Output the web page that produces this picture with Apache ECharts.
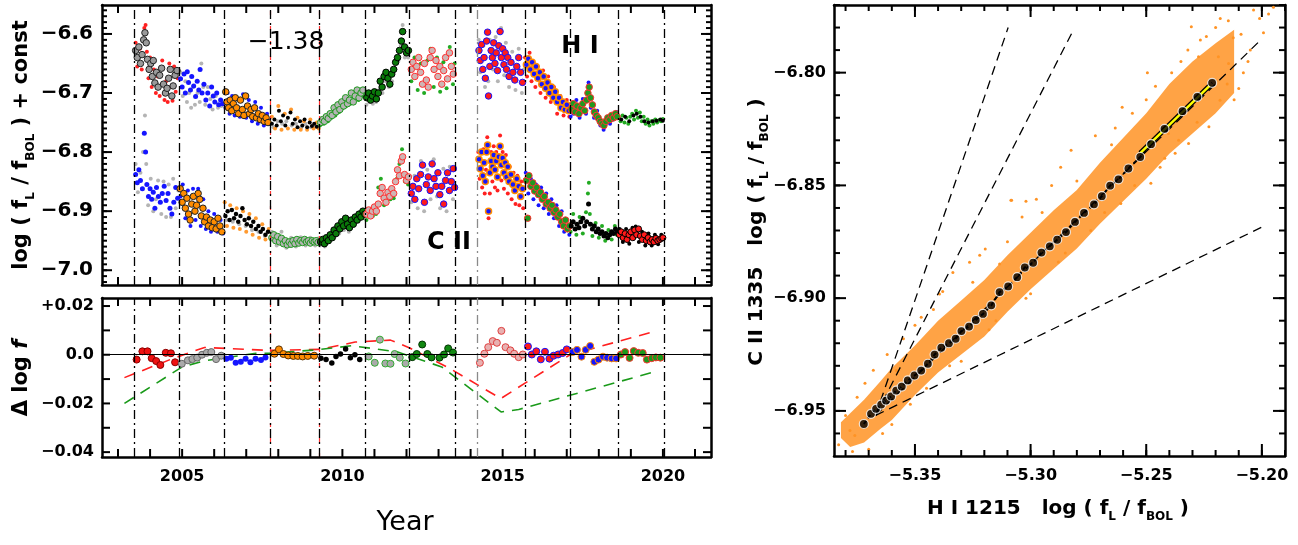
<!DOCTYPE html>
<html><head><meta charset="utf-8">
<script src="https://cdn.jsdelivr.net/npm/echarts@6/dist/echarts.min.js"></script>
<style>html,body{margin:0;padding:0;background:#fff}#c{width:1298px;height:545px}</style>
</head><body><div id="c"></div><script>
// ---------------- data: top-left panel (H I upper, C II lower) ----------------
const hiS1=[[2003.55,-6.615],[2003.6,-6.655],[2003.68,-6.625],[2003.74,-6.66],[2003.82,-6.59],[2003.86,-6.585],[2003.9,-6.63],[2003.95,-6.675],[2004.0,-6.64],[2004.05,-6.69],[2004.12,-6.66],[2004.18,-6.7],[2004.24,-6.672],[2004.3,-6.705],[2004.38,-6.645],[2004.45,-6.712],[2004.5,-6.68],[2004.55,-6.715],[2004.6,-6.65],[2004.66,-6.69],[2004.7,-6.713],[2004.75,-6.655],[2004.8,-6.698],[2004.86,-6.675]];
const hiB1=[[2003.55,-6.628],[2003.6,-6.64],[2003.65,-6.622],[2003.7,-6.65],[2003.75,-6.635],[2003.8,-6.61],[2003.84,-6.598],[2003.88,-6.615],[2003.92,-6.643],[2003.97,-6.66],[2004.02,-6.65],[2004.07,-6.672],[2004.1,-6.645],[2004.15,-6.683],[2004.2,-6.665],[2004.25,-6.69],[2004.3,-6.67],[2004.36,-6.658],[2004.42,-6.685],[2004.48,-6.7],[2004.53,-6.692],[2004.58,-6.675],[2004.63,-6.66],[2004.68,-6.705],[2004.72,-6.688],[2004.78,-6.67],[2004.84,-6.662]];
const hiS2=[[2004.95,-6.665],[2005.02,-6.705],[2005.1,-6.68],[2005.15,-6.715],[2005.22,-6.7],[2005.28,-6.725],[2005.34,-6.69],[2005.4,-6.72],[2005.48,-6.7],[2005.55,-6.715],[2005.6,-6.65],[2005.66,-6.69],[2005.72,-6.72],[2005.8,-6.69],[2005.88,-6.71],[2005.95,-6.728],[2006.05,-6.705],[2006.12,-6.725],[2006.22,-6.722]];
const hiB2=[[2004.95,-6.676],[2005.0,-6.69],[2005.06,-6.668],[2005.1,-6.7],[2005.16,-6.664],[2005.2,-6.682],[2005.26,-6.695],[2005.3,-6.672],[2005.36,-6.688],[2005.42,-6.706],[2005.47,-6.68],[2005.52,-6.695],[2005.56,-6.66],[2005.62,-6.7],[2005.68,-6.685],[2005.74,-6.712],[2005.8,-6.7],[2005.86,-6.722],[2005.92,-6.69],[2005.97,-6.705],[2006.02,-6.715],[2006.08,-6.7],[2006.14,-6.72],[2006.2,-6.712],[2006.26,-6.718]];
const hiS3=[[2006.35,-6.725],[2006.42,-6.7],[2006.48,-6.735],[2006.56,-6.705],[2006.64,-6.738],[2006.72,-6.71],[2006.8,-6.74],[2006.9,-6.702],[2007.0,-6.742],[2007.08,-6.712],[2007.18,-6.748],[2007.28,-6.715],[2007.36,-6.752],[2007.46,-6.725],[2007.55,-6.755],[2007.65,-6.735],[2007.72,-6.752]];
const hiB3=[[2006.36,-6.698],[2006.4,-6.715],[2006.45,-6.725],[2006.5,-6.712],[2006.55,-6.73],[2006.6,-6.718],[2006.66,-6.708],[2006.7,-6.725],[2006.76,-6.735],[2006.82,-6.712],[2006.88,-6.728],[2006.93,-6.738],[2006.98,-6.705],[2007.04,-6.722],[2007.1,-6.735],[2007.15,-6.728],[2007.2,-6.74],[2007.26,-6.725],[2007.32,-6.742],[2007.38,-6.735],[2007.44,-6.745],[2007.5,-6.738],[2007.56,-6.748],[2007.62,-6.742],[2007.68,-6.75]];
const hiS4=[[2007.8,-6.74],[2007.9,-6.76],[2008.0,-6.722],[2008.1,-6.762],[2008.2,-6.735],[2008.3,-6.76],[2008.4,-6.728],[2008.5,-6.762],[2008.6,-6.742],[2008.7,-6.762],[2008.8,-6.748],[2008.9,-6.762],[2009.0,-6.745],[2009.1,-6.76],[2009.2,-6.75],[2009.26,-6.76]];
const hiG4=[[2007.85,-6.758],[2007.98,-6.748],[2008.12,-6.752],[2008.25,-6.748],[2008.42,-6.755],[2008.55,-6.752],[2008.72,-6.758],[2008.85,-6.752],[2009.02,-6.758],[2009.15,-6.755]];
const hiB4=[[2007.8,-6.752],[2007.88,-6.745],[2007.95,-6.755],[2008.02,-6.73],[2008.08,-6.748],[2008.15,-6.738],[2008.22,-6.755],[2008.3,-6.742],[2008.38,-6.733],[2008.45,-6.752],[2008.52,-6.745],[2008.6,-6.758],[2008.68,-6.748],[2008.75,-6.755],[2008.82,-6.745],[2008.9,-6.758],[2008.98,-6.75],[2009.05,-6.756],[2009.12,-6.752],[2009.2,-6.757]];
const hiS5=[[2009.3,-6.755],[2009.42,-6.752],[2009.55,-6.748],[2009.66,-6.742],[2009.78,-6.738],[2009.9,-6.732],[2010.0,-6.726],[2010.12,-6.722],[2010.25,-6.718],[2010.38,-6.712],[2010.5,-6.712],[2010.62,-6.705],[2010.7,-6.7]];
const hiB5=[[2009.32,-6.75],[2009.38,-6.745],[2009.44,-6.748],[2009.5,-6.74],[2009.56,-6.743],[2009.62,-6.735],[2009.68,-6.738],[2009.74,-6.725],[2009.8,-6.732],[2009.86,-6.72],[2009.92,-6.728],[2009.98,-6.715],[2010.04,-6.722],[2010.1,-6.708],[2010.16,-6.718],[2010.22,-6.712],[2010.28,-6.7],[2010.34,-6.715],[2010.4,-6.705],[2010.46,-6.695],[2010.52,-6.708],[2010.58,-6.7],[2010.64,-6.695]];
const hiS6=[[2010.75,-6.72],[2010.85,-6.715],[2010.95,-6.718],[2011.05,-6.715],[2011.15,-6.695],[2011.25,-6.7],[2011.35,-6.68],[2011.45,-6.69],[2011.55,-6.68],[2011.65,-6.66],[2011.75,-6.645],[2011.82,-6.62],[2011.88,-6.585],[2011.95,-6.64],[2012.05,-6.64]];
const hiB6=[[2010.76,-6.708],[2010.82,-6.7],[2010.88,-6.712],[2010.94,-6.705],[2011.0,-6.698],[2011.06,-6.71],[2011.12,-6.7],[2011.18,-6.68],[2011.24,-6.69],[2011.3,-6.672],[2011.36,-6.665],[2011.42,-6.675],[2011.48,-6.685],[2011.54,-6.668],[2011.6,-6.66],[2011.66,-6.648],[2011.72,-6.64],[2011.78,-6.628],[2011.84,-6.612],[2011.88,-6.596],[2011.94,-6.622],[2012.0,-6.632],[2012.06,-6.628]];
const hiS7=[[2012.15,-6.68],[2012.25,-6.64],[2012.35,-6.695],[2012.45,-6.65],[2012.55,-6.7],[2012.65,-6.645],[2012.75,-6.625],[2012.85,-6.69],[2012.95,-6.64],[2013.05,-6.698],[2013.15,-6.648],[2013.25,-6.692],[2013.35,-6.622],[2013.45,-6.685],[2013.5,-6.65]];
const hiB7=[[2012.15,-6.66],[2012.2,-6.648],[2012.26,-6.672],[2012.32,-6.655],[2012.38,-6.64],[2012.44,-6.665],[2012.5,-6.685],[2012.56,-6.65],[2012.62,-6.678],[2012.68,-6.69],[2012.74,-6.64],[2012.8,-6.628],[2012.86,-6.66],[2012.92,-6.645],[2012.98,-6.672],[2013.04,-6.655],[2013.1,-6.685],[2013.16,-6.662],[2013.22,-6.64],[2013.28,-6.676],[2013.34,-6.632],[2013.4,-6.655],[2013.46,-6.668]];
const hiS8=[[2014.25,-6.61],[2014.3,-6.665],[2014.4,-6.62],[2014.45,-6.69],[2014.55,-6.68],[2014.6,-6.61],[2014.7,-6.66],[2014.78,-6.605],[2014.85,-6.68],[2014.95,-6.59],[2015.05,-6.67],[2015.1,-6.615],[2015.2,-6.69],[2015.3,-6.63],[2015.4,-6.695],[2015.5,-6.625],[2015.6,-6.7],[2015.66,-6.66]];
const hiB8=[[2014.26,-6.628],[2014.3,-6.645],[2014.34,-6.618],[2014.38,-6.66],[2014.42,-6.64],[2014.46,-6.675],[2014.5,-6.612],[2014.53,-6.597],[2014.56,-6.705],[2014.6,-6.655],[2014.64,-6.628],[2014.68,-6.64],[2014.72,-6.615],[2014.76,-6.65],[2014.8,-6.632],[2014.84,-6.662],[2014.88,-6.62],[2014.92,-6.596],[2014.96,-6.64],[2015.0,-6.625],[2015.04,-6.652],[2015.08,-6.632],[2015.12,-6.66],[2015.16,-6.64],[2015.2,-6.672],[2015.26,-6.648],[2015.32,-6.665],[2015.38,-6.678],[2015.44,-6.655],[2015.5,-6.64],[2015.56,-6.665],[2015.62,-6.682]];
const hiS9=[[2015.7,-6.64],[2015.76,-6.672],[2015.84,-6.632],[2015.9,-6.68],[2015.96,-6.65],[2016.02,-6.69],[2016.1,-6.655],[2016.18,-6.7],[2016.26,-6.662],[2016.34,-6.708],[2016.42,-6.672],[2016.5,-6.715],[2016.6,-6.69],[2016.7,-6.735],[2016.8,-6.705],[2016.9,-6.738],[2017.0,-6.712],[2017.08,-6.74]];
const hiB9=[[2015.74,-6.652],[2015.8,-6.642],[2015.86,-6.66],[2015.92,-6.648],[2015.98,-6.668],[2016.04,-6.655],[2016.1,-6.675],[2016.16,-6.665],[2016.22,-6.685],[2016.28,-6.672],[2016.34,-6.692],[2016.4,-6.682],[2016.46,-6.7],[2016.52,-6.69],[2016.58,-6.708],[2016.64,-6.698],[2016.7,-6.715],[2016.76,-6.708],[2016.82,-6.725],[2016.88,-6.715],[2016.94,-6.728],[2017.0,-6.72],[2017.06,-6.73]];
const hiS10=[[2017.12,-6.74],[2017.2,-6.735],[2017.3,-6.712],[2017.4,-6.742],[2017.5,-6.71],[2017.6,-6.735],[2017.68,-6.682],[2017.75,-6.725],[2017.85,-6.742],[2017.95,-6.73],[2018.05,-6.755],[2018.15,-6.762],[2018.25,-6.75],[2018.35,-6.752],[2018.45,-6.745],[2018.55,-6.732]];
const hiB10=[[2017.14,-6.728],[2017.2,-6.718],[2017.26,-6.732],[2017.32,-6.722],[2017.38,-6.735],[2017.44,-6.725],[2017.5,-6.718],[2017.56,-6.73],[2017.62,-6.712],[2017.66,-6.7],[2017.7,-6.69],[2017.74,-6.708],[2017.8,-6.72],[2017.86,-6.732],[2017.92,-6.738],[2017.98,-6.742],[2018.04,-6.748],[2018.1,-6.752],[2018.16,-6.755],[2018.22,-6.748],[2018.28,-6.742],[2018.34,-6.745],[2018.4,-6.738],[2018.46,-6.742],[2018.52,-6.735],[2018.57,-6.74]];
const hiS11=[[2018.62,-6.742],[2018.68,-6.748],[2018.74,-6.738],[2018.8,-6.75],[2018.86,-6.742],[2018.92,-6.752],[2018.98,-6.74],[2019.04,-6.735],[2019.1,-6.745],[2019.16,-6.73],[2019.22,-6.742],[2019.28,-6.733],[2019.34,-6.748],[2019.4,-6.74],[2019.46,-6.752],[2019.52,-6.745],[2019.58,-6.755],[2019.64,-6.748],[2019.7,-6.752],[2019.76,-6.745],[2019.82,-6.75],[2019.88,-6.746],[2019.94,-6.748],[2020.0,-6.744]];
const hiB11=[[2018.7,-6.745],[2018.82,-6.74],[2018.95,-6.748],[2019.08,-6.738],[2019.18,-6.735],[2019.3,-6.74],[2019.42,-6.748],[2019.55,-6.75],[2019.68,-6.748],[2019.8,-6.747],[2019.92,-6.745],[2020.0,-6.747]];

const ciS1=[[2003.55,-6.82],[2003.62,-6.868],[2003.7,-6.835],[2003.78,-6.8],[2003.84,-6.738],[2003.88,-6.82],[2003.94,-6.89],[2004.02,-6.845],[2004.1,-6.9],[2004.18,-6.88],[2004.25,-6.848],[2004.35,-6.905],[2004.42,-6.85],[2004.5,-6.91],[2004.58,-6.855],[2004.65,-6.91],[2004.72,-6.845],[2004.8,-6.895],[2004.88,-6.865]];
const ciB1=[[2003.55,-6.838],[2003.6,-6.852],[2003.65,-6.83],[2003.7,-6.848],[2003.76,-6.862],[2003.82,-6.768],[2003.86,-6.8],[2003.9,-6.855],[2003.95,-6.875],[2004.0,-6.862],[2004.05,-6.88],[2004.1,-6.868],[2004.15,-6.895],[2004.2,-6.86],[2004.26,-6.875],[2004.32,-6.885],[2004.38,-6.87],[2004.44,-6.858],[2004.5,-6.882],[2004.56,-6.87],[2004.62,-6.895],[2004.68,-6.905],[2004.74,-6.885],[2004.8,-6.86],[2004.86,-6.878]];
const ciS2=[[2004.95,-6.875],[2005.02,-6.855],[2005.1,-6.912],[2005.18,-6.865],[2005.26,-6.925],[2005.34,-6.862],[2005.42,-6.915],[2005.5,-6.862],[2005.58,-6.925],[2005.66,-6.88],[2005.74,-6.93],[2005.82,-6.9],[2005.9,-6.935],[2006.0,-6.905],[2006.1,-6.935],[2006.2,-6.915],[2006.28,-6.938]];
const ciB2=[[2004.94,-6.862],[2005.0,-6.885],[2005.05,-6.87],[2005.1,-6.895],[2005.15,-6.878],[2005.2,-6.905],[2005.25,-6.915],[2005.3,-6.888],[2005.35,-6.875],[2005.4,-6.9],[2005.45,-6.89],[2005.5,-6.87],[2005.55,-6.88],[2005.6,-6.908],[2005.65,-6.895],[2005.7,-6.918],[2005.76,-6.91],[2005.82,-6.925],[2005.88,-6.915],[2005.94,-6.928],[2006.0,-6.918],[2006.06,-6.93],[2006.12,-6.912],[2006.18,-6.925],[2006.24,-6.935]];
const ciS3=[[2006.33,-6.885],[2006.4,-6.925],[2006.5,-6.89],[2006.6,-6.928],[2006.7,-6.895],[2006.8,-6.93],[2006.9,-6.9],[2007.0,-6.935],[2007.1,-6.905],[2007.2,-6.94],[2007.3,-6.912],[2007.4,-6.945],[2007.5,-6.922],[2007.6,-6.948],[2007.7,-6.93]];
const ciG3=[[2006.38,-6.915],[2006.58,-6.918],[2006.78,-6.922],[2006.98,-6.925],[2007.18,-6.932],[2007.38,-6.935],[2007.58,-6.942]];
const ciB3=[[2006.35,-6.908],[2006.42,-6.9],[2006.48,-6.915],[2006.55,-6.898],[2006.62,-6.912],[2006.68,-6.905],[2006.75,-6.918],[2006.82,-6.908],[2006.88,-6.895],[2006.95,-6.915],[2007.02,-6.922],[2007.08,-6.912],[2007.15,-6.925],[2007.22,-6.918],[2007.3,-6.93],[2007.38,-6.925],[2007.45,-6.935],[2007.52,-6.93],[2007.6,-6.94],[2007.68,-6.935]];
const ciS4=[[2007.8,-6.935],[2007.95,-6.958],[2008.1,-6.935],[2008.25,-6.962],[2008.4,-6.945],[2008.55,-6.96],[2008.7,-6.944],[2008.85,-6.958],[2009.0,-6.945],[2009.15,-6.958],[2009.26,-6.946]];
const ciB4=[[2007.8,-6.945],[2007.86,-6.94],[2007.92,-6.95],[2007.98,-6.943],[2008.04,-6.952],[2008.1,-6.946],[2008.16,-6.955],[2008.22,-6.95],[2008.28,-6.957],[2008.34,-6.952],[2008.4,-6.956],[2008.46,-6.95],[2008.52,-6.955],[2008.58,-6.948],[2008.64,-6.954],[2008.7,-6.95],[2008.76,-6.953],[2008.82,-6.948],[2008.88,-6.952],[2008.94,-6.95],[2009.0,-6.954],[2009.06,-6.95],[2009.12,-6.952],[2009.18,-6.95],[2009.24,-6.953]];
const ciS5=[[2009.3,-6.958],[2009.45,-6.96],[2009.6,-6.952],[2009.75,-6.945],[2009.9,-6.938],[2010.05,-6.932],[2010.2,-6.935],[2010.35,-6.925],[2010.5,-6.918],[2010.65,-6.912]];
const ciB5=[[2009.32,-6.952],[2009.38,-6.948],[2009.44,-6.955],[2009.5,-6.945],[2009.56,-6.95],[2009.62,-6.94],[2009.68,-6.945],[2009.74,-6.932],[2009.8,-6.938],[2009.86,-6.925],[2009.92,-6.93],[2009.98,-6.918],[2010.04,-6.925],[2010.1,-6.912],[2010.16,-6.922],[2010.22,-6.928],[2010.28,-6.915],[2010.34,-6.922],[2010.4,-6.91],[2010.46,-6.915],[2010.52,-6.905],[2010.58,-6.91],[2010.64,-6.9],[2010.7,-6.905]];
const ciS6=[[2010.75,-6.915],[2010.85,-6.91],[2010.95,-6.908],[2011.05,-6.905],[2011.12,-6.86],[2011.2,-6.845],[2011.3,-6.89],[2011.4,-6.885],[2011.5,-6.88],[2011.6,-6.878],[2011.7,-6.845],[2011.78,-6.82],[2011.86,-6.795],[2011.95,-6.85],[2012.05,-6.855]];
const ciB6=[[2010.76,-6.905],[2010.82,-6.898],[2010.88,-6.908],[2010.94,-6.9],[2011.0,-6.893],[2011.06,-6.9],[2011.12,-6.888],[2011.18,-6.87],[2011.24,-6.86],[2011.3,-6.878],[2011.36,-6.885],[2011.42,-6.868],[2011.48,-6.875],[2011.54,-6.862],[2011.6,-6.87],[2011.66,-6.85],[2011.72,-6.83],[2011.78,-6.84],[2011.84,-6.815],[2011.88,-6.808],[2011.94,-6.838],[2012.0,-6.848],[2012.06,-6.842]];
const ciS7=[[2012.15,-6.885],[2012.25,-6.84],[2012.35,-6.895],[2012.45,-6.815],[2012.55,-6.9],[2012.65,-6.83],[2012.75,-6.88],[2012.85,-6.812],[2012.95,-6.875],[2013.05,-6.895],[2013.15,-6.828],[2013.25,-6.9],[2013.35,-6.825],[2013.45,-6.88]];
const ciB7=[[2012.15,-6.87],[2012.2,-6.858],[2012.26,-6.88],[2012.32,-6.845],[2012.38,-6.862],[2012.44,-6.838],[2012.5,-6.822],[2012.56,-6.885],[2012.62,-6.855],[2012.68,-6.842],[2012.74,-6.865],[2012.8,-6.82],[2012.86,-6.845],[2012.92,-6.858],[2012.98,-6.835],[2013.04,-6.872],[2013.1,-6.858],[2013.16,-6.888],[2013.22,-6.848],[2013.28,-6.835],[2013.34,-6.865],[2013.4,-6.85],[2013.46,-6.828],[2013.5,-6.86]];
const ciS8=[[2014.24,-6.8],[2014.28,-6.845],[2014.32,-6.815],[2014.36,-6.86],[2014.4,-6.795],[2014.44,-6.87],[2014.48,-6.83],[2014.52,-6.775],[2014.56,-6.912],[2014.6,-6.87],[2014.64,-6.8],[2014.68,-6.85],[2014.72,-6.79],[2014.76,-6.86],[2014.8,-6.8],[2014.84,-6.865],[2014.88,-6.792],[2014.92,-6.772],[2014.96,-6.848],[2015.0,-6.8],[2015.04,-6.862],[2015.1,-6.805],[2015.16,-6.87],[2015.22,-6.825],[2015.28,-6.88],[2015.34,-6.835],[2015.4,-6.888],[2015.46,-6.84],[2015.52,-6.89],[2015.58,-6.85],[2015.64,-6.895]];
const ciB8=[[2014.26,-6.812],[2014.3,-6.828],[2014.34,-6.8],[2014.38,-6.84],[2014.42,-6.818],[2014.46,-6.85],[2014.5,-6.8],[2014.53,-6.788],[2014.56,-6.9],[2014.6,-6.835],[2014.64,-6.815],[2014.68,-6.825],[2014.72,-6.805],[2014.76,-6.83],[2014.8,-6.815],[2014.84,-6.842],[2014.88,-6.808],[2014.92,-6.79],[2014.96,-6.822],[2015.0,-6.81],[2015.04,-6.835],[2015.08,-6.818],[2015.12,-6.842],[2015.16,-6.825],[2015.2,-6.85],[2015.26,-6.838],[2015.32,-6.855],[2015.38,-6.865],[2015.44,-6.845],[2015.5,-6.858],[2015.56,-6.875],[2015.62,-6.862]];
const ciS9=[[2015.72,-6.835],[2015.8,-6.87],[2015.88,-6.845],[2015.96,-6.88],[2016.04,-6.855],[2016.12,-6.89],[2016.2,-6.86],[2016.28,-6.895],[2016.36,-6.87],[2016.44,-6.905],[2016.52,-6.88],[2016.6,-6.912],[2016.68,-6.89],[2016.76,-6.925],[2016.84,-6.9],[2016.92,-6.935],[2017.0,-6.915],[2017.08,-6.94]];
const ciB9=[[2015.74,-6.848],[2015.78,-6.912],[2015.82,-6.84],[2015.88,-6.858],[2015.94,-6.852],[2016.0,-6.866],[2016.06,-6.86],[2016.12,-6.872],[2016.18,-6.868],[2016.24,-6.88],[2016.3,-6.875],[2016.36,-6.888],[2016.42,-6.885],[2016.48,-6.895],[2016.54,-6.89],[2016.6,-6.902],[2016.66,-6.898],[2016.72,-6.91],[2016.78,-6.905],[2016.84,-6.918],[2016.9,-6.925],[2016.96,-6.915],[2017.02,-6.93],[2017.08,-6.925]];
const ciS10=[[2017.12,-6.935],[2017.2,-6.905],[2017.3,-6.94],[2017.4,-6.91],[2017.5,-6.938],[2017.6,-6.902],[2017.66,-6.87],[2017.69,-6.852],[2017.72,-6.905],[2017.8,-6.942],[2017.9,-6.92],[2018.0,-6.945],[2018.1,-6.925],[2018.2,-6.95],[2018.3,-6.932],[2018.4,-6.948],[2018.5,-6.925],[2018.56,-6.94]];
const ciB10=[[2017.14,-6.925],[2017.2,-6.918],[2017.26,-6.93],[2017.32,-6.922],[2017.38,-6.928],[2017.44,-6.918],[2017.5,-6.912],[2017.56,-6.925],[2017.62,-6.918],[2017.68,-6.888],[2017.74,-6.922],[2017.8,-6.93],[2017.86,-6.925],[2017.92,-6.935],[2017.98,-6.93],[2018.04,-6.938],[2018.1,-6.935],[2018.16,-6.942],[2018.22,-6.938],[2018.28,-6.945],[2018.34,-6.94],[2018.4,-6.935],[2018.46,-6.938],[2018.52,-6.93],[2018.57,-6.935]];
const ciS11=[[2018.65,-6.93],[2018.75,-6.952],[2018.85,-6.93],[2018.95,-6.955],[2019.05,-6.928],[2019.15,-6.926],[2019.25,-6.952],[2019.35,-6.935],[2019.45,-6.958],[2019.55,-6.938],[2019.65,-6.958],[2019.75,-6.94],[2019.85,-6.956],[2019.95,-6.94]];
const ciB11=[[2018.64,-6.94],[2018.7,-6.935],[2018.76,-6.945],[2018.82,-6.938],[2018.88,-6.948],[2018.94,-6.94],[2019.0,-6.935],[2019.06,-6.945],[2019.12,-6.932],[2019.18,-6.94],[2019.24,-6.93],[2019.3,-6.942],[2019.36,-6.948],[2019.42,-6.94],[2019.48,-6.95],[2019.54,-6.945],[2019.6,-6.952],[2019.66,-6.948],[2019.72,-6.952],[2019.78,-6.946],[2019.84,-6.95],[2019.9,-6.948],[2019.96,-6.946],[2020.0,-6.945]];

// ---------------- data: bottom-left panel ----------------
const d1=[[2003.58,-0.002],[2003.76,0.0014],[2003.92,0.0014],[2004.05,-0.0014],[2004.19,-0.0026],[2004.32,-0.0042],[2004.49,0.0008],[2004.65,0.0006],[2004.78,-0.0031]];
const d2=[[2004.99,-0.0037],[2005.18,-0.0023],[2005.32,-0.0018],[2005.47,-0.0012],[2005.62,0.0],[2005.77,0.0008],[2005.91,0.0011],[2006.06,-0.0018],[2006.22,-0.0004]];
const d3=[[2006.38,-0.0016],[2006.52,-0.0012],[2006.67,-0.0033],[2006.83,-0.0029],[2006.98,-0.0016],[2007.13,-0.0031],[2007.29,-0.0016],[2007.46,-0.0022],[2007.6,-0.0011]];
const d4=[[2007.88,0.0004],[2008.02,0.0022],[2008.16,0.0003],[2008.31,-0.0003],[2008.47,-0.0005],[2008.61,-0.0005],[2008.76,-0.0007],[2008.92,-0.0005],[2009.12,-0.0004]];
const d5=[[2009.33,-0.0014],[2009.49,-0.002],[2009.67,-0.0034],[2009.8,-0.0007],[2009.94,0.0003],[2010.1,0.0024],[2010.25,-0.0012],[2010.39,0.0],[2010.54,-0.002]];
const d6=[[2010.82,-0.0007],[2011.01,-0.0033],[2011.17,0.0062],[2011.34,-0.0036],[2011.5,-0.0037],[2011.63,0.0003],[2011.79,-0.0012],[2011.97,-0.0036]];
const d7=[[2012.18,-0.001],[2012.32,0.0003],[2012.49,0.0042],[2012.65,0.0003],[2012.78,-0.0011],[2013.03,-0.0012],[2013.17,0.0001],[2013.3,0.0026],[2013.45,0.0009]];
const d8=[[2014.29,-0.0033],[2014.43,0.0004],[2014.55,0.0031],[2014.69,0.0056],[2014.82,0.0049],[2014.96,0.0098],[2015.09,0.0031],[2015.24,0.0018],[2015.36,0.0004],[2015.5,-0.001],[2015.63,0.0001]];
const d9=[[2015.79,0.0034],[2015.91,0.0001],[2016.05,0.0014],[2016.19,-0.0019],[2016.32,0.0012],[2016.46,-0.0016],[2016.59,-0.0004],[2016.73,0.0001],[2016.87,0.0007],[2017.0,0.0022]];
const d10=[[2017.18,0.0011],[2017.32,0.002],[2017.46,-0.0008],[2017.59,0.002],[2017.73,0.0036],[2017.86,-0.0029],[2017.99,-0.002],[2018.13,-0.0008],[2018.26,-0.0012],[2018.4,-0.0015],[2018.54,-0.0015]];
const d11=[[2018.69,0.0001],[2018.82,0.0011],[2018.96,-0.0013],[2019.09,0.0015],[2019.23,0.0008],[2019.37,0.0007],[2019.5,-0.002],[2019.65,-0.0014],[2019.78,-0.0011],[2019.92,-0.0012]];
const redDash=[[2003.2,-0.0094],[2004.7,-0.0016],[2005.7,0.003],[2007.7,0.0018],[2009.3,0.0022],[2010.4,0.0052],[2011.5,0.006],[2012.1,0.0028],[2013.4,-0.006],[2014.94,-0.018],[2017.1,0.0],[2019.8,0.0098]];
const greenDash=[[2003.2,-0.02],[2005.0,-0.005],[2005.7,-0.0025],[2007.3,0.0006],[2007.7,0.0006],[2009.2,0.002],[2010.3,0.0037],[2011.7,0.0012],[2013.1,-0.005],[2014.95,-0.0235],[2015.5,-0.0225],[2019.8,-0.0068]];
const bounds=[2003.5,2004.9,2006.3,2007.75,2009.28,2010.72,2012.1,2013.53,2014.22,2015.69,2017.1,2018.6,2020.03];
const redBounds=[2007.75,2009.28];
const grayBounds=[2014.22];

// ---------------- data: right panel ----------------
const binX=[-5.3721,-5.369,-5.3668,-5.3646,-5.3625,-5.3603,-5.3581,-5.3557,-5.3531,-5.3502,-5.3473,-5.3444,-5.3415,-5.3386,-5.3353,-5.3324,-5.3299,-5.3266,-5.3237,-5.3206,-5.317,-5.3134,-5.3097,-5.3058,-5.3025,-5.2989,-5.2953,-5.2917,-5.2885,-5.2847,-5.2808,-5.2769,-5.2726,-5.2692,-5.2656,-5.262,-5.2577,-5.2526,-5.2479,-5.2421,-5.2343,-5.2279,-5.2215];
const binY=[-6.9558,-6.9513,-6.9491,-6.9472,-6.9454,-6.9436,-6.941,-6.9392,-6.9365,-6.9343,-6.9321,-6.9291,-6.925,-6.922,-6.92,-6.918,-6.9146,-6.9126,-6.9097,-6.907,-6.9032,-6.8973,-6.8948,-6.8907,-6.8864,-6.8843,-6.8798,-6.877,-6.8741,-6.8707,-6.8662,-6.8622,-6.8584,-6.8548,-6.8501,-6.8473,-6.8425,-6.8374,-6.8317,-6.8249,-6.8171,-6.8107,-6.8045];
const bandX=[-5.382,-5.378,-5.372,-5.365,-5.36,-5.35,-5.34,-5.33,-5.32,-5.31,-5.3,-5.29,-5.28,-5.27,-5.26,-5.25,-5.24,-5.23,-5.22,-5.212];
const bandLo=[-6.962,-6.966,-6.964,-6.958,-6.954,-6.943,-6.933,-6.925,-6.917,-6.906,-6.896,-6.887,-6.878,-6.867,-6.857,-6.847,-6.836,-6.827,-6.818,-6.809];
const bandHi=[-6.955,-6.951,-6.945,-6.937,-6.931,-6.921,-6.91,-6.901,-6.892,-6.881,-6.871,-6.861,-6.852,-6.84,-6.829,-6.818,-6.805,-6.795,-6.787,-6.781];
const cloudDots=[[-5.3085,-6.8566],[-5.2975,-6.8561],[-5.3037,-6.864],[-5.3196,-6.8782],[-5.2305,-6.7796],[-5.2145,-6.777],[-5.2036,-6.7722],[-5.1971,-6.774],[-5.1993,-6.7823],[-5.2124,-6.7845],[-5.2266,-6.7855],[-5.2495,-6.8],[-5.2604,-6.8153],[-5.2634,-6.8246],[-5.2825,-6.8344],[-5.2909,-6.85],[-5.3082,-6.8566],[-5.2375,-6.8357],[-5.2229,-6.824],[-5.21,-6.807],[-5.2181,-6.8122],[-5.2317,-6.8314],[-5.2404,-6.827],[-5.2274,-6.793],[-5.2188,-6.793],[-5.2144,-6.7959],[-5.3716,-6.9377],[-5.3781,-6.9587],[-5.376,-6.9609],[-5.3581,-6.9321],[-5.3473,-6.9085],[-5.3394,-6.8982],[-5.3336,-6.8886],[-5.3264,-6.8841],[-5.3134,-6.8849],[-5.205,-6.79],[-5.208,-6.8],[-5.215,-6.805],[-5.244,-6.842],[-5.255,-6.85],[-5.268,-6.862],[-5.285,-6.88],[-5.3,-6.898],[-5.315,-6.91],[-5.33,-6.928],[-5.345,-6.94],[-5.36,-6.956],[-5.37,-6.967],[-5.383,-6.965],[-5.38,-6.952],[-5.368,-6.932],[-5.355,-6.918],[-5.342,-6.905],[-5.325,-6.893],[-5.31,-6.875],[-5.295,-6.862],[-5.28,-6.848],[-5.265,-6.832],[-5.25,-6.812],[-5.235,-6.795],[-5.22,-6.78],[-5.195,-6.771],[-5.201,-6.776],[-5.236,-6.83],[-5.228,-6.822],[-5.246,-6.806],[-5.256,-6.818],[-5.209,-6.783],[-5.206,-6.795],[-5.212,-6.812],[-5.218,-6.776],[-5.224,-6.784],[-5.232,-6.79],[-5.239,-6.8],[-5.242,-6.838],[-5.248,-6.849],[-5.261,-6.858],[-5.274,-6.87],[-5.288,-6.884],[-5.302,-6.9],[-5.318,-6.914],[-5.335,-6.93],[-5.352,-6.947],[-5.364,-6.96],[-5.377,-6.968],[-5.272,-6.828],[-5.287,-6.842],[-5.302,-6.857],[-5.322,-6.881],[-5.338,-6.897],[-5.35,-6.912],[-5.362,-6.925],[-5.375,-6.944]];
const guide3=[[-5.367,-6.952],[-5.3097,-6.78]];
const guide2=[[-5.367,-6.952],[-5.2813,-6.7807]];
const guide1=[[-5.367,-6.952],[-5.2,-6.785]];
const guideHalf=[[-5.367,-6.952],[-5.2,-6.8685]];
const yellowSeg=[[-5.2526,-6.8357],[-5.2223,-6.8055]];

// ---------------- tick labels ----------------
const years=[2003,2004,2005,2006,2007,2008,2009,2010,2011,2012,2013,2014,2015,2016,2017,2018,2019,2020,2021];
const yearLabels=[2005,2010,2015,2020];
const topMajor=[-7.0,-6.9,-6.8,-6.7,-6.6];
const botTicks=[-0.04,-0.03,-0.02,-0.01,0,0.01,0.02];
const botLabels=[-0.04,-0.02,0,0.02];
const rxMajor=[-5.35,-5.30,-5.25,-5.20];
const ryMajor=[-6.95,-6.90,-6.85,-6.80];
function steps(a,b,s){const r=[];for(let v=a;v<=b+1e-9;v+=s)r.push(Math.round(v*10000)/10000);return r;}
const topMinor=steps(-7.02,-6.56,0.01);
const rxMinor=steps(-5.38,-5.19,0.01);
const ryMinor=steps(-6.96,-6.77,0.01);

// ---------------- styles ----------------
const F='DejaVu Sans';
const hiStyle=[['#ff2020','#9a9a9a','#222',6.5],['#b4b4b4','#1515ff',null,5],['#1515ff','#ff8c00','#222',6.5],['#ff9a30','#000',null,4],['#22aa22','#b4b4b4','#1f9a1f',6.5],['#b4b4b4','#0a7a0a','#000',6.5],['#22aa22','#d0b4b4','#ff3030',6.5],['#b4b4b4','#ff1a1a','#1515ff',6.5],['#ff2020','#1515ff','#ff8c00',6],['#1515ff','#1f9a1f','#ff3030',6.5],['#22aa22','#000',null,4]];
const ciStyle=[['#b4b4b4','#1515ff',null,5],['#1515ff','#ff8c00','#222',6.5],['#ff9a30','#000',null,4.5],['#b4b4b4','#b4b4b4','#1f9a1f',6.5],['#b4b4b4','#0a7a0a','#000',6.5],['#22aa22','#d0b4b4','#ff3030',6.5],['#b4b4b4','#ff1a1a','#1515ff',6.5],['#ff2020','#1515ff','#ff8c00',6],['#1515ff','#1f9a1f','#ff3030',6.5],['#22aa22','#000',null,5],['#000','#ff1a1a','#000',6]];
const dStyle=[['#ee1111','#8b0000',7],['#aaaaaa','#666666',7],['#1515ff',null,6],['#ff8c00','#5a3000',7],['#000000',null,5.5],['#aaaaaa','#33aa33',7],['#118811','#003300',7],['#e8b0b0','#e04040',7],['#ff1a1a','#1515ff',7],['#1515ff','#ff8c00',7],['#1a9a1a','#ff3030',7]];

// ---------------- layout ----------------
const GRIDS=[{left:102,top:5,width:609,height:280},{left:102,top:298,width:609,height:159},{left:834,top:5,width:451,height:451}];

// ---------------- axes ----------------
const xAxis=[], yAxis=[];
function ax(list,grid,pos,min,max,labels,fmt,fs,margin){
  list.push({type:'value',gridIndex:grid,position:pos,min:min,max:max,
    axisLine:{show:true,onZero:false,lineStyle:{color:'#000',width:2.5}},
    axisTick:{show:false},
    axisLabel:labels?{show:true,customValues:labels,formatter:fmt,color:'#000',fontFamily:F,fontWeight:'bold',fontSize:fs,margin:margin}:{show:false},
    splitLine:{show:false}});
  return list.length-1;
}
const minus=s=>s.replace('-','\u2212');
const fmt1=v=>minus(v.toFixed(1));
const fmt2=v=>minus(v.toFixed(2));
const fmtB=v=>Math.abs(v)<1e-9?'0.0':(v>0?'+':'\u2212')+Math.abs(v).toFixed(2);
const fmtY=v=>String(Math.round(v));
const X0=ax(xAxis,0,'bottom',2002.5,2021.5,null);
ax(xAxis,0,'top',2002.5,2021.5,null);
const Y0=ax(yAxis,0,'left',-7.025,-6.551,topMajor,fmt1,20,9);
ax(yAxis,0,'right',-7.025,-6.551,null);
const X1=ax(xAxis,1,'bottom',2002.5,2021.5,yearLabels,fmtY,16,12);
ax(xAxis,1,'top',2002.5,2021.5,null);
const Y1=ax(yAxis,1,'left',-0.042,0.0233,botLabels,fmtB,16,8);
ax(yAxis,1,'right',-0.042,0.0233,null);
const X2=ax(xAxis,2,'bottom',-5.385,-5.19,rxMajor,fmt2,16,12);
ax(xAxis,2,'top',-5.385,-5.19,null);
const Y2=ax(yAxis,2,'left',-6.97,-6.77,ryMajor,fmt2,16,8);
ax(yAxis,2,'right',-6.97,-6.77,null);

const XI=[X0,X1,X2], YI=[Y0,Y1,Y2];
const series=[];
function sc(g,data,color,size,edge,z,bw){
  series.push({type:'scatter',xAxisIndex:XI[g],yAxisIndex:YI[g],data:data,symbolSize:size,silent:true,
    itemStyle:{color:color,borderColor:edge||color,borderWidth:edge?(bw||1):0,opacity:1},z:z||3});
}
// vertical boundary lines
function vlines(){const d=[];bounds.forEach(b=>{
  if(redBounds.includes(b)) d.push({xAxis:b,lineStyle:{color:'#ff3030',type:[4,11],width:1.2}});
  d.push({xAxis:b,lineStyle:{color:grayBounds.includes(b)?'#8a8a8a':'#000',type:[9,4,2,4],width:1.3}});
});return d;}
[0,1].forEach(g=>{
  const ml=vlines(); if(g===1) ml.push({yAxis:0,lineStyle:{color:'#000',type:'solid',width:1}});
  series.push({type:'line',xAxisIndex:XI[g],yAxisIndex:YI[g],data:[],z:1,silent:true,
    markLine:{silent:true,symbol:['none','none'],label:{show:false},animation:false,data:ml}});
});
// top panel points
const hiS=[hiS1,hiS2,hiS3,hiS4,hiS5,hiS6,hiS7,hiS8,hiS9,hiS10,hiS11];
const hiB=[hiB1,hiB2,hiB3,hiB4,hiB5,hiB6,hiB7,hiB8,hiB9,hiB10,hiB11];
const ciS=[ciS1,ciS2,ciS3,ciS4,ciS5,ciS6,ciS7,ciS8,ciS9,ciS10,ciS11];
const ciB=[ciB1,ciB2,ciB3,ciB4,ciB5,ciB6,ciB7,ciB8,ciB9,ciB10,ciB11];
sc(0,hiG4,'#b4b4b4',4,null,2);
sc(0,ciG3,'#b4b4b4',4,null,2);
for(let i=0;i<11;i++){
  const h=hiStyle[i], c=ciStyle[i];
  sc(0,hiS[i],h[0],4,null,2);
  sc(0,hiB[i],h[1],h[3],h[2],3,h[2]&&i===8?1.5:1);
  sc(0,ciS[i],c[0],4,null,2);
  sc(0,ciB[i],c[1],c[3],c[2],3,c[2]&&i===7?1.5:1);
}
// bottom panel
series.push({type:'line',xAxisIndex:X1,yAxisIndex:Y1,data:redDash,showSymbol:false,silent:true,z:2,
  lineStyle:{color:'#ff2020',width:1.6,type:[11,8]}});
series.push({type:'line',xAxisIndex:X1,yAxisIndex:Y1,data:greenDash,showSymbol:false,silent:true,z:2,
  lineStyle:{color:'#1a9a1a',width:1.6,type:[11,8]}});
[d1,d2,d3,d4,d5,d6,d7,d8,d9,d10,d11].forEach((d,i)=>{const s=dStyle[i];sc(1,d,s[0],s[2],s[1],3);});
// right panel
series.push({type:'custom',xAxisIndex:X2,yAxisIndex:Y2,data:[[bandX[0],bandLo[0]]],silent:true,z:2,
  renderItem:function(params,api){
    const pts=[];
    for(let i=0;i<bandX.length;i++) pts.push(api.coord([bandX[i],bandLo[i]]));
    for(let i=bandX.length-1;i>=0;i--) pts.push(api.coord([bandX[i],bandHi[i]]));
    return {type:'polygon',shape:{points:pts},style:{fill:'#ff9324',opacity:0.85}};
  }});
sc(2,cloudDots,'#ff9324',3,null,2);
[guide3,guide2,guide1,guideHalf].forEach(g=>series.push({type:'line',xAxisIndex:X2,yAxisIndex:Y2,data:g,showSymbol:false,silent:true,z:3,
  lineStyle:{color:'#000',width:1.3,type:[9,6]}}));
series.push({type:'line',xAxisIndex:X2,yAxisIndex:Y2,data:binX.map((x,i)=>[x,binY[i]]),showSymbol:false,silent:true,z:4,
  lineStyle:{color:'#000',width:2,type:[4,3]}});
series.push({type:'line',xAxisIndex:X2,yAxisIndex:Y2,data:yellowSeg,showSymbol:false,silent:true,z:5,lineStyle:{color:'#000',width:5}});
series.push({type:'line',xAxisIndex:X2,yAxisIndex:Y2,data:yellowSeg,showSymbol:false,silent:true,z:5,lineStyle:{color:'#ffff00',width:2.5}});
series.push({type:'scatter',xAxisIndex:X2,yAxisIndex:Y2,data:binX.map((x,i)=>[x,binY[i]]),symbolSize:9,silent:true,z:6,
  itemStyle:{color:'#000',borderColor:'#fff',borderWidth:1.2}});

// ---------------- text ----------------
const sub={fontSize:12,fontWeight:'bold',fontFamily:F,lineHeight:12,verticalAlign:'bottom',fill:'#000'};
function big(fs){return {fontSize:fs,fontWeight:'bold',fontFamily:F,lineHeight:fs+8,fill:'#000'};}
const graphic=[
 {type:'text',x:22,y:145,rotation:Math.PI/2,silent:true,style:{text:'{a|log ( f}{s|L}{a| / f}{s|BOL}{a| ) + const}',rich:{a:big(21),s:sub},align:'center',verticalAlign:'middle'}},
 {type:'text',x:22,y:378,rotation:Math.PI/2,silent:true,style:{text:'{a|\u0394 log }{i|f}',rich:{a:big(21),i:Object.assign(big(21),{fontStyle:'italic'})},align:'center',verticalAlign:'middle'}},
 {type:'text',x:405,y:523,silent:true,style:{text:'Year',fontSize:27,fontFamily:F,fill:'#000',align:'center',verticalAlign:'middle'}},
 {type:'text',x:286,y:42,silent:true,style:{text:'\u22121.38',fontSize:25,fontFamily:F,fill:'#000',align:'center',verticalAlign:'middle'}},
 {type:'text',x:580,y:47,silent:true,style:{text:'H I',fontSize:24,fontWeight:'bold',fontFamily:F,fill:'#000',align:'center',verticalAlign:'middle'}},
 {type:'text',x:449,y:243,silent:true,style:{text:'C II',fontSize:24,fontWeight:'bold',fontFamily:F,fill:'#000',align:'center',verticalAlign:'middle'}},
 {type:'text',x:757,y:232,rotation:Math.PI/2,silent:true,style:{text:'{a|C II 1335   log ( f}{s|L}{a| / f}{s|BOL}{a| )}',rich:{a:big(20),s:sub},align:'center',verticalAlign:'middle'}},
 {type:'text',x:1058,y:509,silent:true,style:{text:'{a|H I 1215   log ( f}{s|L}{a| / f}{s|BOL}{a| )}',rich:{a:big(20),s:sub},align:'center',verticalAlign:'middle'}}
];

const chart=echarts.init(document.getElementById('c'),null,{renderer:'canvas'});
chart.setOption({
  animation:false,backgroundColor:'#fff',
  grid:GRIDS,xAxis:xAxis,yAxis:yAxis,series:series,graphic:graphic
});

// ---------------- inward ticks on all four frame sides, positioned through the axis scales ----------------
const tickEls=[];
function tickLine(x1,y1,x2,y2){tickEls.push({type:'line',silent:true,z:50,shape:{x1:x1,y1:y1,x2:x2,y2:y2},style:{stroke:'#000',lineWidth:2}});}
function ticksX(g,vals,len){const G=GRIDS[g];vals.forEach(v=>{
  const p=chart.convertToPixel({xAxisIndex:XI[g]},v);
  if(p==null||isNaN(p))return;
  tickLine(p,G.top+G.height,p,G.top+G.height-len);
  tickLine(p,G.top,p,G.top+len);
});}
function ticksY(g,vals,len){const G=GRIDS[g];vals.forEach(v=>{
  const p=chart.convertToPixel({yAxisIndex:YI[g]},v);
  if(p==null||isNaN(p))return;
  tickLine(G.left,p,G.left+len,p);
  tickLine(G.left+G.width,p,G.left+G.width-len,p);
});}
ticksX(0,years,8); ticksY(0,topMajor,10); ticksY(0,topMinor,5);
ticksX(1,years,8); ticksY(1,botTicks,8);
ticksX(2,rxMajor,12); ticksX(2,rxMinor,6); ticksY(2,ryMajor,12); ticksY(2,ryMinor,6);
chart.setOption({graphic:graphic.concat(tickEls)});
</script></body></html>
